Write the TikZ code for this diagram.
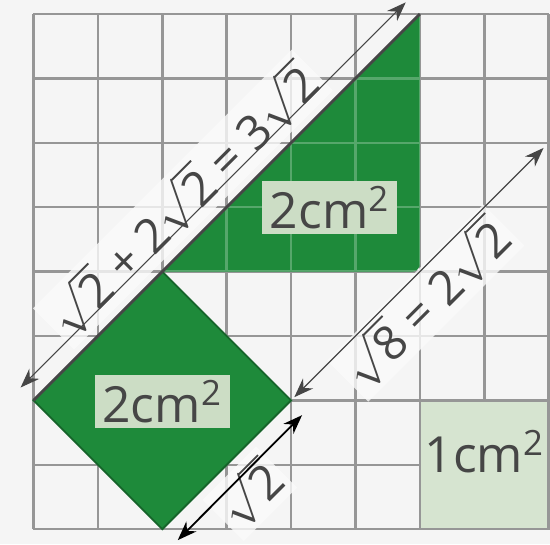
\documentclass[tikz,border=0pt]{standalone}
\usepackage{fontspec}
\setmainfont{Open Sans}
\usetikzlibrary{arrows.meta,positioning,calc}
\definecolor{paper}{RGB}{245,245,245}
\definecolor{gridgray}{RGB}{150,150,150}
\definecolor{leaf}{RGB}{30,138,58}
\definecolor{leafedge}{RGB}{22,100,42}
\definecolor{tagfill}{RGB}{204,221,197}
\definecolor{unitfill}{RGB}{214,228,208}
\definecolor{inkgray}{RGB}{70,70,70}
\newcommand{\rt}[1]{$\sqrt{\mbox{#1}}$}
\newcommand{\tripath}{(2,4) -- (6,8) -- (6,4.12) arc[start angle=0,end angle=-90,radius=0.12] -- cycle}

\begin{document}
\begin{tikzpicture}[
  every node/.style={font=\fontsize{22}{26}\selectfont,text=inkgray},
  gridline/.style={draw=gridgray,line width=1.1pt},
  area/.style={fill=tagfill,minimum width=2.1cm,minimum height=0.82cm,inner sep=2pt},
  unitbox/.style={draw=gridgray,line width=1.1pt,fill=unitfill,minimum size=2cm,inner sep=0pt},
  dimlabel/.style={rotate=45,font=\fontsize{21}{25}\selectfont,fill=white!60!paper,fill opacity=0.8,text opacity=1,inner sep=2pt},
  dimline/.style={{Stealth[length=3mm,width=2.2mm]}-{Stealth[length=3mm,width=2.2mm]},line width=0.5pt,draw=inkgray}
]
\useasboundingbox (-0.52,-0.23) rectangle (8.02,8.217);
\fill[paper] (-0.52,-0.23) rectangle (8.02,8.217);
% grid of cells
\draw[gridline] (0,0) grid (8,8);
\node[unitbox] (unitsq) at (7,1) {};
% green pieces
\fill[leaf] \tripath;
\begin{scope}
  \clip \tripath;
  \draw[gridline,draw=leaf!75!white] (0,0) grid (8,8);
\end{scope}
\filldraw[fill=leaf,draw=leafedge,line width=0.8pt] (0,2) -- (2,4) -- (4,2) -- (2,0) -- cycle;
\draw[inkgray,line width=1.3pt] (0,2) -- (6,8);
% lengths
\node[dimlabel] (sumtxt) at (2.32,5.12) {\rt{2} + 2\rt{2} = 3\rt{2}};
\node[dimlabel] (roottxt) at (6.09,3.51) {\rt{8} = 2\rt{2}};
\node[dimlabel] (sidetxt) at (3.36,0.55) {\rt{2}};
\coordinate (sumA) at (-0.2,2.2);
\coordinate (sumB) at (5.78,8.18);
\coordinate (rootA) at (4.05,2.05);
\coordinate (rootB) at (7.92,5.92);
\coordinate (sideA) at (2.24,-0.17);
\coordinate (sideB) at (4.17,1.77);
\draw[dimline] (sumA) -- (sumB);
\draw[dimline] (rootA) -- (rootB);
\draw[dimline,draw=black,line width=0.8pt] (sideA) -- (sideB);
% areas
\node[area] (tritag) at (4.6,5.0) {2cm\textsuperscript{2}};
\node[area] (sqtag) at (2,1.98) {2cm\textsuperscript{2}};
\node (unittxt) at ($(unitsq.center)+(0,0.2)$) {1cm\textsuperscript{2}};
\end{tikzpicture}
\end{document}
